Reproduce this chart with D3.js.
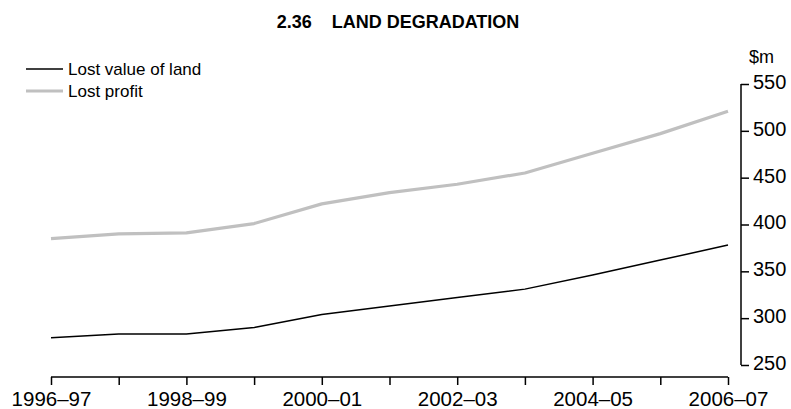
<!DOCTYPE html>
<html>
<head>
<meta charset="utf-8">
<script src="https://cdn.jsdelivr.net/npm/d3@7"></script>
<style>
  html, body { margin: 0; padding: 0; background: #fff; }
  svg { display: block; font-family: "Liberation Sans", Arial, sans-serif; }
</style>
</head>
<body>
<svg id="chart" width="791" height="409"></svg>
<script>
const categories = ["1996–97","1997–98","1998–99","1999–00","2000–01","2001–02","2002–03","2003–04","2004–05","2005–06","2006–07"];
const tickLabels = ["1996–97","1998–99","2000–01","2002–03","2004–05","2006–07"];
const lostValueOfLand = [279, 283, 283, 290, 304, 313, 322, 331, 346, 362, 378];
const lostProfit = [385, 390, 391, 401, 422, 434, 443, 455, 476, 497, 521];
const yTicks = [250, 300, 350, 400, 450, 500, 550];

const svg = d3.select("#chart");

const x = d3.scalePoint().domain(categories).range([51, 728]).padding(0);
const y = d3.scaleLinear().domain([250, 550]).range([365, 84]);

// Title
const title = svg.append("text")
  .attr("x", 398).attr("y", 28)
  .attr("text-anchor", "middle")
  .attr("font-weight", "bold")
  .attr("font-size", 18)
  .attr("fill", "#000");
title.append("tspan").text("2.36");
title.append("tspan").attr("dx", 20).text("LAND DEGRADATION");

// X axis
const xAxis = d3.axisBottom(x)
  .tickSize(8)
  .tickFormat(d => tickLabels.includes(d) ? d : "");
const gx = svg.append("g").attr("transform", "translate(0,377)").call(xAxis);
gx.select(".domain").attr("d", `M${x.range()[0]},0H${x.range()[1]}`).attr("stroke", "#000").attr("stroke-width", 1.5);
gx.selectAll(".tick line").attr("stroke", "#000").attr("stroke-width", 1.5);
gx.selectAll(".tick text")
  .attr("font-family", "Liberation Sans, Arial, sans-serif")
  .attr("font-size", 20.5)
  .attr("fill", "#000")
  .attr("y", 14)
  .attr("dy", "0.71em");

// Y axis (right)
const yAxis = d3.axisRight(y).tickValues(yTicks).tickSize(8).tickPadding(4);
const gy = svg.append("g").attr("transform", "translate(741,0)").call(yAxis);
gy.select(".domain").attr("d", `M0,${y(250)}V${y(550)}`).attr("stroke", "#000").attr("stroke-width", 1.5);
gy.selectAll(".tick line").attr("stroke", "#000").attr("stroke-width", 1.5);
gy.selectAll(".tick text")
  .attr("font-family", "Liberation Sans, Arial, sans-serif")
  .attr("font-size", 20)
  .attr("fill", "#000")
  .attr("dy", "0.22em");

svg.append("text")
  .attr("x", 749).attr("y", 63)
  .attr("font-size", 18)
  .attr("fill", "#000")
  .text("$m");

// Lines
const line = d3.line().x((d, i) => x(categories[i])).y(d => y(d));
svg.append("path").datum(lostProfit)
  .attr("d", line).attr("fill", "none")
  .attr("stroke", "#c0c0c0").attr("stroke-width", 3.2)
  .attr("stroke-linejoin", "round");
svg.append("path").datum(lostValueOfLand)
  .attr("d", line).attr("fill", "none")
  .attr("stroke", "#000").attr("stroke-width", 1.5)
  .attr("stroke-linejoin", "round");

// Legend
const legend = [
  { name: "Lost value of land", color: "#000", width: 1.5, y: 69 },
  { name: "Lost profit", color: "#c0c0c0", width: 3.2, y: 91 }
];
const lg = svg.append("g");
legend.forEach(l => {
  lg.append("line").attr("x1", 26).attr("x2", 63).attr("y1", l.y).attr("y2", l.y)
    .attr("stroke", l.color).attr("stroke-width", l.width);
  lg.append("text").attr("x", 68).attr("y", l.y).attr("dy", "0.35em")
    .attr("font-size", 17).attr("fill", "#000").text(l.name);
});
</script>
</body>
</html>
